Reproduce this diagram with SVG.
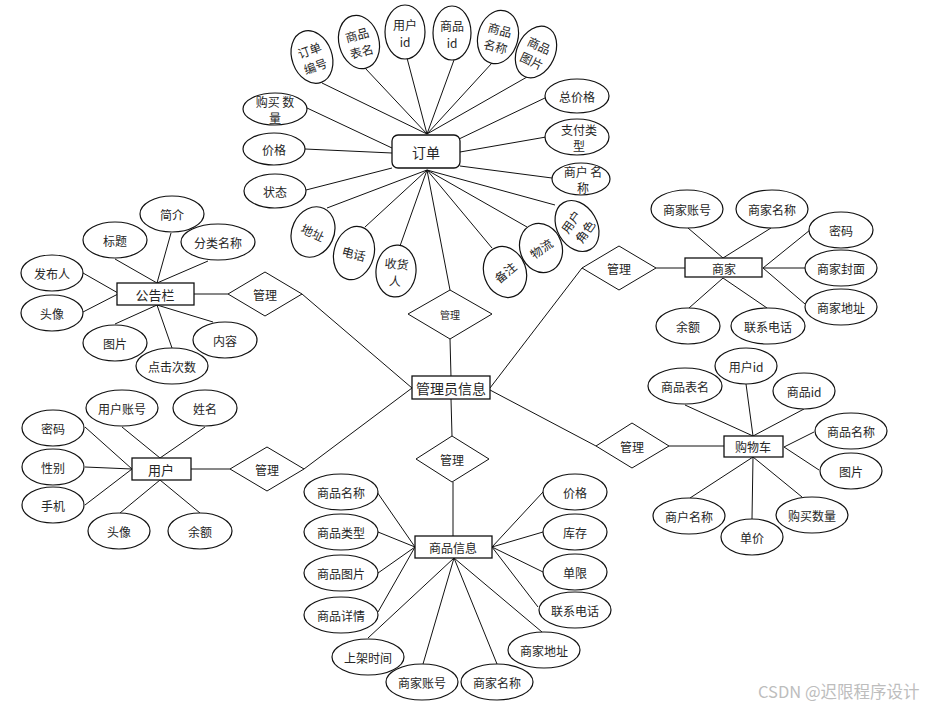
<svg xmlns="http://www.w3.org/2000/svg" width="934" height="707" viewBox="0 0 934 707">
<style>
text{font-family:"Noto Sans CJK SC","Liberation Sans",sans-serif;font-size:12px;fill:#262626;text-anchor:middle;dominant-baseline:central}
.e{fill:#fff;stroke:#111;stroke-width:1.2}
.r{fill:#fff;stroke:#111;stroke-width:1.3}
.d{fill:#fff;stroke:#111;stroke-width:1}
#lines line{stroke:#111;stroke-width:1}
.big{font-size:14px}
.mid{font-size:13px}
.wm{font-size:16.5px;fill:#bdbdbd;text-anchor:start}
</style>
<rect width="934" height="707" fill="#fff"/>
<g id="lines">
<line x1="322" y1="83" x2="427" y2="134"/><line x1="365" y1="68" x2="427" y2="134"/><line x1="407" y1="58" x2="427" y2="134"/><line x1="454" y1="60" x2="427" y2="134"/><line x1="492" y1="63" x2="427" y2="134"/><line x1="527" y1="77" x2="427" y2="134"/>
<line x1="547" y1="97" x2="459" y2="139"/><line x1="546" y1="137" x2="460" y2="152"/><line x1="552" y1="178" x2="460" y2="166"/>
<line x1="307" y1="108" x2="392" y2="148"/><line x1="305" y1="149" x2="392" y2="153"/><line x1="306" y1="190" x2="392" y2="168"/>
<line x1="327" y1="208" x2="427" y2="170"/><line x1="365" y1="227" x2="427" y2="170"/><line x1="400" y1="246" x2="427" y2="170"/><line x1="450" y1="290" x2="427" y2="170"/><line x1="492" y1="248" x2="427" y2="170"/><line x1="527" y1="227" x2="427" y2="170"/><line x1="555" y1="205" x2="427" y2="170"/>
<line x1="450" y1="339" x2="451" y2="377"/>
<line x1="171" y1="233" x2="157" y2="283"/><line x1="115" y1="259" x2="157" y2="283"/><line x1="208" y1="261" x2="157" y2="283"/><line x1="83" y1="273" x2="118" y2="293"/><line x1="83" y1="312" x2="118" y2="294"/><line x1="115" y1="324" x2="157" y2="305"/><line x1="172" y1="348" x2="157" y2="305"/><line x1="213" y1="322" x2="157" y2="305"/>
<line x1="194" y1="294" x2="228" y2="294"/><line x1="302" y1="294" x2="412" y2="388"/>
<line x1="122" y1="427" x2="160" y2="458"/><line x1="205" y1="427" x2="160" y2="458"/><line x1="85" y1="427" x2="132" y2="469"/><line x1="85" y1="467" x2="132" y2="469"/><line x1="85" y1="505" x2="132" y2="469"/><line x1="120" y1="513" x2="160" y2="480"/><line x1="200" y1="513" x2="160" y2="480"/>
<line x1="191" y1="469" x2="230" y2="469"/><line x1="304" y1="469" x2="412" y2="388"/>
<line x1="451" y1="399" x2="452" y2="436"/><line x1="453" y1="482" x2="453" y2="536"/>
<line x1="377" y1="492" x2="415" y2="547"/><line x1="378" y1="532" x2="415" y2="547"/><line x1="378" y1="573" x2="415" y2="547"/><line x1="378" y1="612" x2="415" y2="547"/>
<line x1="368" y1="638" x2="454" y2="558"/><line x1="423" y1="664" x2="454" y2="558"/><line x1="497" y1="664" x2="454" y2="558"/><line x1="542" y1="632" x2="454" y2="558"/>
<line x1="543" y1="492" x2="492" y2="547"/><line x1="543" y1="532" x2="492" y2="547"/><line x1="543" y1="572" x2="492" y2="547"/><line x1="538" y1="607" x2="492" y2="547"/>
<line x1="688" y1="228" x2="723" y2="258"/><line x1="771" y1="228" x2="723" y2="258"/><line x1="810" y1="230" x2="763" y2="268"/><line x1="805" y1="268" x2="763" y2="268"/><line x1="805" y1="304" x2="763" y2="268"/><line x1="689" y1="308" x2="723" y2="278"/><line x1="767" y1="308" x2="723" y2="278"/>
<line x1="656" y1="268" x2="685" y2="268"/><line x1="582" y1="268" x2="490" y2="388"/>
<line x1="746" y1="384" x2="753" y2="436"/><line x1="685" y1="405" x2="753" y2="436"/><line x1="804" y1="409" x2="753" y2="436"/><line x1="814" y1="432" x2="784" y2="447"/><line x1="819" y1="470" x2="784" y2="447"/><line x1="690" y1="498" x2="753" y2="457"/><line x1="752" y1="519" x2="753" y2="457"/><line x1="802" y1="497" x2="753" y2="457"/>
<line x1="669" y1="446" x2="724" y2="446"/><line x1="596" y1="446" x2="490" y2="390"/>
</g>

<!-- central -->
<g id="admin"><rect class="r" x="412" y="376" width="78" height="23"/><text class="big" x="451" y="388">管理员信息</text></g>
<g id="rel-order"><polygon class="d" points="408,314 450,290 492,314 450,339"/><text x="450" y="314" style="font-size:10px">管理</text></g>
<g id="rel-product"><polygon class="d" points="416,459 452,436 489,459 452,482"/><text x="452" y="459">管理</text></g>
<g id="rel-notice"><polygon class="d" points="228,294 265,272 302,294 265,316"/><text x="265" y="294">管理</text></g>
<g id="rel-user"><polygon class="d" points="230,469 267,447 304,469 267,491"/><text x="267" y="469">管理</text></g>
<g id="rel-merchant"><polygon class="d" points="582,268 619,246 656,268 619,290"/><text x="619" y="268">管理</text></g>
<g id="rel-cart"><polygon class="d" points="596,446 632,423 669,446 632,468"/><text x="632" y="446">管理</text></g>

<!-- order -->
<g id="order"><rect class="r" x="392" y="135" width="68" height="33" rx="6"/><text class="big" x="426" y="152">订单</text></g>
<g id="o-no" transform="translate(312,57) rotate(-20)"><ellipse class="e" rx="20" ry="27"/><text y="-8">订单</text><text y="9">编号</text></g>
<g id="o-table" transform="translate(359,42) rotate(-15)"><ellipse class="e" rx="20" ry="27"/><text y="-8">商品</text><text y="9">表名</text></g>
<g id="o-uid" transform="translate(405,32)"><ellipse class="e" rx="20" ry="27"/><text y="-8">用户</text><text y="9">id</text></g>
<g id="o-gid" transform="translate(452,33)"><ellipse class="e" rx="19" ry="27"/><text y="-8">商品</text><text y="9">id</text></g>
<g id="o-gname" transform="translate(498,37) rotate(15)"><ellipse class="e" rx="20" ry="27"/><text y="-8">商品</text><text y="9">名称</text></g>
<g id="o-gpic" transform="translate(536,52) rotate(25)"><ellipse class="e" rx="19" ry="27"/><text y="-8">商品</text><text y="9">图片</text></g>
<g id="o-qty"><ellipse class="e" cx="275" cy="109" rx="32" ry="16"/><text x="275" y="101">购买 数</text><text x="275" y="117">量</text></g>
<g id="o-price"><ellipse class="e" cx="274" cy="149" rx="31" ry="16"/><text x="274" y="149">价格</text></g>
<g id="o-state"><ellipse class="e" cx="275" cy="191" rx="31" ry="17"/><text x="275" y="191">状态</text></g>
<g id="o-total"><ellipse class="e" cx="577" cy="96" rx="32" ry="17"/><text x="577" y="96">总价格</text></g>
<g id="o-pay"><ellipse class="e" cx="577" cy="137" rx="32" ry="18"/><text x="579" y="129">支付类</text><text x="579" y="145">型</text></g>
<g id="o-mname"><ellipse class="e" cx="581" cy="179" rx="29" ry="16"/><text x="583" y="171">商户 名</text><text x="583" y="187">称</text></g>
<g id="o-role" transform="translate(577,226) rotate(-30)"><ellipse class="e" rx="20" ry="27"/><g transform="rotate(-25)"><text y="-8">用户</text><text y="9">角色</text></g></g>
<g id="o-logi" transform="translate(541,248) rotate(-20)"><ellipse class="e" rx="21" ry="25"/><text transform="rotate(-15)">物流</text></g>
<g id="o-note" transform="translate(505,272) rotate(-20)"><ellipse class="e" rx="21" ry="26"/><text transform="rotate(-20)">备注</text></g>
<g id="o-recv" transform="translate(396,271) rotate(5)"><ellipse class="e" rx="20" ry="26"/><text y="-8">收货</text><text y="9">人</text></g>
<g id="o-tel" transform="translate(354,253) rotate(15)"><ellipse class="e" rx="20" ry="27"/><text>电话</text></g>
<g id="o-addr" transform="translate(313,232) rotate(25)"><ellipse class="e" rx="21" ry="26"/><text>地址</text></g>

<!-- notice -->
<g id="notice"><rect class="r" x="117" y="283" width="77" height="22"/><text class="mid" x="155" y="294">公告栏</text></g>
<g id="n-intro"><ellipse class="e" cx="172" cy="214" rx="32" ry="18"/><text x="172" y="214">简介</text></g>
<g id="n-title"><ellipse class="e" cx="115" cy="240" rx="32" ry="18"/><text x="115" y="240">标题</text></g>
<g id="n-cat"><ellipse class="e" cx="218" cy="242" rx="37" ry="18"/><text x="218" y="242">分类名称</text></g>
<g id="n-pub"><ellipse class="e" cx="52" cy="273" rx="31" ry="18"/><text x="52" y="273">发布人</text></g>
<g id="n-avatar"><ellipse class="e" cx="52" cy="313" rx="31" ry="18"/><text x="52" y="313">头像</text></g>
<g id="n-pic"><ellipse class="e" cx="115" cy="343" rx="32" ry="18"/><text x="115" y="343">图片</text></g>
<g id="n-click"><ellipse class="e" cx="172" cy="366" rx="36" ry="18"/><text x="172" y="366">点击次数</text></g>
<g id="n-content"><ellipse class="e" cx="225" cy="340" rx="32" ry="18"/><text x="225" y="340">内容</text></g>

<!-- user -->
<g id="user"><rect class="r" x="132" y="458" width="59" height="22"/><text class="mid" x="161" y="469">用户</text></g>
<g id="u-acc"><ellipse class="e" cx="122" cy="408" rx="36" ry="18"/><text x="122" y="408">用户账号</text></g>
<g id="u-name"><ellipse class="e" cx="205" cy="408" rx="32" ry="18"/><text x="205" y="408">姓名</text></g>
<g id="u-pwd"><ellipse class="e" cx="53" cy="428" rx="31" ry="18"/><text x="53" y="428">密码</text></g>
<g id="u-sex"><ellipse class="e" cx="53" cy="467" rx="31" ry="18"/><text x="53" y="467">性别</text></g>
<g id="u-phone"><ellipse class="e" cx="53" cy="505" rx="31" ry="18"/><text x="53" y="505">手机</text></g>
<g id="u-avatar"><ellipse class="e" cx="119" cy="531" rx="31" ry="18"/><text x="119" y="531">头像</text></g>
<g id="u-bal"><ellipse class="e" cx="200" cy="531" rx="32" ry="18"/><text x="200" y="531">余额</text></g>

<!-- product -->
<g id="product"><rect class="r" x="415" y="536" width="77" height="22"/><text x="453" y="547">商品信息</text></g>
<g id="p-name"><ellipse class="e" cx="341" cy="492" rx="37" ry="18"/><text x="341" y="492">商品名称</text></g>
<g id="p-type"><ellipse class="e" cx="341" cy="532" rx="37" ry="18"/><text x="341" y="532">商品类型</text></g>
<g id="p-pic"><ellipse class="e" cx="341" cy="573" rx="37" ry="18"/><text x="341" y="573">商品图片</text></g>
<g id="p-detail"><ellipse class="e" cx="341" cy="615" rx="37" ry="18"/><text x="341" y="615">商品详情</text></g>
<g id="p-time"><ellipse class="e" cx="368" cy="657" rx="36" ry="18"/><text x="368" y="657">上架时间</text></g>
<g id="p-macc"><ellipse class="e" cx="422" cy="682" rx="36" ry="18"/><text x="422" y="682">商家账号</text></g>
<g id="p-mname"><ellipse class="e" cx="497" cy="682" rx="36" ry="18"/><text x="497" y="682">商家名称</text></g>
<g id="p-maddr"><ellipse class="e" cx="544" cy="650" rx="36" ry="18"/><text x="544" y="650">商家地址</text></g>
<g id="p-price"><ellipse class="e" cx="575" cy="492" rx="32" ry="18"/><text x="575" y="492">价格</text></g>
<g id="p-stock"><ellipse class="e" cx="575" cy="532" rx="32" ry="18"/><text x="575" y="532">库存</text></g>
<g id="p-limit"><ellipse class="e" cx="575" cy="572" rx="32" ry="18"/><text x="575" y="572">单限</text></g>
<g id="p-tel"><ellipse class="e" cx="575" cy="610" rx="36" ry="18"/><text x="575" y="610">联系电话</text></g>

<!-- merchant -->
<g id="merchant"><rect class="r" x="685" y="258" width="77" height="19"/><text x="724" y="268">商家</text></g>
<g id="m-acc"><ellipse class="e" cx="687" cy="209" rx="36" ry="19"/><text x="687" y="209">商家账号</text></g>
<g id="m-name"><ellipse class="e" cx="772" cy="209" rx="36" ry="19"/><text x="772" y="209">商家名称</text></g>
<g id="m-pwd"><ellipse class="e" cx="841" cy="230" rx="32" ry="18"/><text x="841" y="230">密码</text></g>
<g id="m-cover"><ellipse class="e" cx="841" cy="268" rx="36" ry="18"/><text x="841" y="268">商家封面</text></g>
<g id="m-addr"><ellipse class="e" cx="841" cy="307" rx="36" ry="18"/><text x="841" y="307">商家地址</text></g>
<g id="m-bal"><ellipse class="e" cx="688" cy="326" rx="32" ry="18"/><text x="688" y="326">余额</text></g>
<g id="m-tel"><ellipse class="e" cx="768" cy="326" rx="37" ry="18"/><text x="768" y="326">联系电话</text></g>

<!-- cart -->
<g id="cart"><rect class="r" x="724" y="436" width="59" height="21"/><text x="753" y="446">购物车</text></g>
<g id="c-uid"><ellipse class="e" cx="746" cy="366" rx="31" ry="18"/><text x="746" y="366">用户id</text></g>
<g id="c-table"><ellipse class="e" cx="685" cy="386" rx="37" ry="18"/><text x="685" y="386">商品表名</text></g>
<g id="c-gid"><ellipse class="e" cx="804" cy="391" rx="31" ry="18"/><text x="804" y="391">商品id</text></g>
<g id="c-gname"><ellipse class="e" cx="851" cy="431" rx="36" ry="18"/><text x="851" y="431">商品名称</text></g>
<g id="c-pic"><ellipse class="e" cx="851" cy="471" rx="31" ry="18"/><text x="851" y="471">图片</text></g>
<g id="c-mname"><ellipse class="e" cx="689" cy="516" rx="36" ry="18"/><text x="689" y="516">商户名称</text></g>
<g id="c-unit"><ellipse class="e" cx="752" cy="537" rx="31" ry="18"/><text x="752" y="537">单价</text></g>
<g id="c-qty"><ellipse class="e" cx="812" cy="515" rx="36" ry="18"/><text x="812" y="515">购买数量</text></g>

<text class="wm" x="758" y="691">CSDN @迟限程序设计</text>
</svg>
